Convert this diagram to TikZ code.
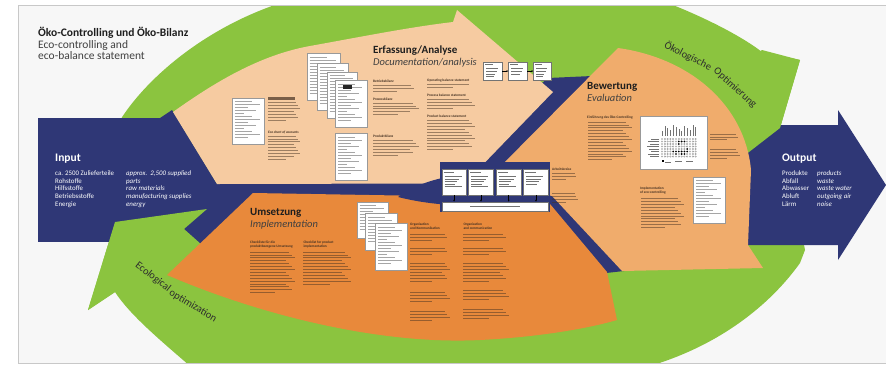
\documentclass[tikz,border=0pt]{standalone}
\usepackage{fontspec}
\setmainfont{Carlito}
\usetikzlibrary{arrows.meta}
\definecolor{navy}{RGB}{47,55,118}
\definecolor{ecogreen}{RGB}{139,196,63}
\definecolor{beige}{RGB}{246,203,161}
\definecolor{lorange}{RGB}{240,172,108}
\definecolor{dorange}{RGB}{232,137,59}
\definecolor{framebg}{RGB}{247,247,247}
\definecolor{frameline}{RGB}{200,200,200}
\definecolor{inktext}{RGB}{30,30,30}
\definecolor{smallink}{RGB}{70,50,35}
\definecolor{arcink}{RGB}{45,45,45}
\newcommand\tlines[4]{%
  \foreach \k in {1,...,#4}{%
    \pgfmathsetmacro\tlfrac{ifthenelse(\k==#4,0.55,0.8+0.2*mod(\k*5,4)/3)}%
    \draw[tline] (#1,{#2+(\k-1)*2.9}) -- ++({#3*\tlfrac},0);}}
\newcommand\docu[4]{%
  \fill[black!30] ({#1+0.8},{#2+0.8}) rectangle ++(#3,#4);
  \filldraw[docframe] (#1,#2) rectangle ++(#3,#4);
  \pgfmathtruncatemacro\docn{(#4-7)/3}%
  \foreach \k in {1,...,\docn}{%
    \pgfmathsetmacro\tlfrac{0.35+0.6*mod(\k*7,5)/4}%
    \draw[docline] ({#1+3},{#2+4+(\k-1)*3}) -- ++({(#3-6)*\tlfrac},0);}}
\newcommand\boxlines[4]{%
  \draw[boxline, line width=0.6pt] ({#1+2},{#2+3}) -- ++({#3*0.6},0);
  \foreach \k in {1,...,#4}{%
    \pgfmathsetmacro\tlfrac{0.6+0.4*mod(\k*3,4)/3}%
    \draw[boxline] ({#1+3},{#2+7+(\k-1)*2.6}) -- ++({#3*\tlfrac},0);}}
\begin{document}
\begin{tikzpicture}[x=1pt,y=-1pt,
  tline/.style={line width=0.75pt, draw=smallink, draw opacity=0.5},
  docline/.style={line width=0.45pt, draw=black!35},
  boxline/.style={line width=0.45pt, draw=black!55},
  docframe/.style={fill=white, draw=black!40, line width=0.4pt},
  tinyhead/.style={font=\fontsize{3.5}{4.1}\selectfont\bfseries, text=smallink, inner sep=0pt, anchor=base west, align=left},
  flowbox/.style={draw=black!55, fill=white, line width=0.4pt, inner sep=0pt, anchor=north west},
  flowarrow/.style={-{Latex[length=1.8pt,width=1.8pt]}, line width=0.45pt, draw=black},
  maintitle/.style={font=\fontsize{11.5}{13}\selectfont\bfseries, text=inktext, inner sep=0pt, anchor=base west},
  subtitle/.style={font=\fontsize{11.5}{13}\selectfont, text=inktext!85, inner sep=0pt, anchor=base west},
  phasehead/.style={font=\fontsize{11}{12}\selectfont\bfseries, text=inktext, inner sep=0pt, anchor=base west},
  phasesub/.style={font=\fontsize{10.5}{12}\selectfont\itshape, text=inktext!85, inner sep=0pt, anchor=base west},
  iohead/.style={font=\fontsize{11.5}{12}\selectfont\bfseries, text=white, inner sep=0pt, anchor=base west},
  iolist/.style={font=\fontsize{6.9}{7.75}\selectfont, text=white, inner sep=0pt, anchor=north west, align=left},
  iolistit/.style={iolist, font=\fontsize{6.9}{7.75}\selectfont\itshape},
  arclabel/.style={font=\fontsize{10.5}{12}\selectfont, text=arcink, inner sep=0pt},
]
\useasboundingbox (0,0) rectangle (886,365);
\fill[white] (0,0) rectangle (886,365);
\fill[framebg] (18,5) rectangle (890,363);
\begin{scope}
\clip (18,5) rectangle (890,363);
% green ring
\fill[ecogreen] (108,180) -- (110,140) .. controls (125,100) and (190,30) .. (290,0)
  -- (660,0) .. controls (700,15) and (740,35) .. (762,52) -- (800,60) -- (780,128)
  -- (795,200) -- (805,250) -- (800,263) .. controls (770,305) and (720,345) .. (650,366)
  -- (190,366) .. controls (160,340) and (130,315) .. (115,292) -- (88,310) -- (115,222) -- cycle;
% central navy
\fill[navy] (160,118) -- (172,110) -- (217,184) -- (440,170) -- (548,78) -- (592,76)
  -- (600,110) -- (556,196) -- (624,271) -- (606,273) -- (540,215) -- (420,212)
  -- (260,205) -- (215,255) -- (170,250) -- (160,242) -- cycle;
% Erfassung (beige)
\fill[beige] (173,112) .. controls (215,82) and (260,55) .. (310,46)
  .. controls (360,37) and (410,27) .. (453,22) -- (457,10) -- (553,92) -- (467,181)
  -- (440,183.5) -- (217,184) -- cycle;
% Input arrow
\fill[navy] (38,118) rectangle (172,242);
% lower-left green arrow head
\fill[ecogreen] (115,292) -- (88,310) -- (115,222) -- (207,209) -- (184,229) -- (202,245) -- (150,300) -- cycle;
% Output arrow
\fill[navy] (740,125) -- (838,125) -- (838,110) -- (886,185) -- (838,260) -- (838,245) -- (740,245) -- cycle;
% upper-right green arrow head
\fill[ecogreen] (762,50) -- (800,60) -- (780,128) -- (700,190) -- (690,100) -- cycle;
% Bewertung
\fill[lorange] (618,48) .. controls (690,58) and (745,105) .. (751,170) -- (748,245) -- (763,268)
  -- (622,271) -- (552,196) -- (485,182) -- cycle;
% Umsetzung
\fill[dorange] (167,275) -- (253,193) -- (545,198) -- (607,272) -- (617,320)
  .. controls (590,328) and (540,337) .. (480,340) .. controls (380,345) and (260,315) .. (167,275) -- cycle;
% navy crescent and patch behind flow boxes
\fill[navy] (398,197) .. controls (415,185) and (435,178) .. (460,175) -- (460,205)
  .. controls (440,205) and (418,202) .. (398,197) -- cycle;
\fill[navy] (440,162) rectangle (550,212);
\end{scope}
\draw[frameline, line width=0.8pt] (890,5) -- (18,5) -- (18,363) -- (890,363);

% titles
\node[maintitle] (title) at (38,36.5) {Öko-Controlling und Öko-Bilanz};
\node[subtitle] (sub1) at (38,48) {Eco-controlling and};
\node[subtitle] (sub2) at (38,59.5) {eco-balance statement};

% Input / Output
\node[iohead] (inhead) at (55,161) {Input};
\node[iolist] (inde) at (55,170.5) {ca. 2500 Zulieferteile\\Rohstoffe\\Hilfsstoffe\\Betriebsstoffe\\Energie};
\node[iolistit] (inen) at (126,170.5) {approx.\ \ 2,500 supplied\\parts\\raw materials\\manufacturing supplies\\energy};
\node[iohead] (outhead) at (782,161) {Output};
\node[iolist] (outde) at (782,170.5) {Produkte\\Abfall\\Abwasser\\Abluft\\Lärm};
\node[iolistit] (outen) at (817,170.5) {products\\waste\\waste water\\outgoing air\\noise};

% phase headings
\node[phasehead] (erf) at (373,53.5) {Erfassung/Analyse};
\node[phasesub] (erfen) at (373,65) {Documentation/analysis};
\node[phasehead] (bew) at (587,89.5) {Bewertung};
\node[phasesub] (bewen) at (587,101) {Evaluation};
\node[phasehead] (ums) at (250,215.5) {Umsetzung};
\node[phasesub] (umsen) at (250,227) {Implementation};

% arc labels
\node[arclabel, rotate=-27] (arc1a) at (688,56) {Ökologische};
\node[arclabel, rotate=-42] (arc1b) at (735,88) {Optimierung};
\node[arclabel, rotate=-38] (arc2a) at (153,277) {Ecological};
\node[arclabel, rotate=-31] (arc2b) at (193,306) {optimization};

% documents - Erfassung
\docu{231.7}{97.7}{32.6}{46.6}
\docu{306.7}{53.3}{33.3}{46.7}
\docu{316.7}{63.3}{31.6}{46.7}
\docu{326.7}{71.7}{30}{46.6}
\docu{335}{80}{31.7}{46.7}
\fill[black!85] (343,85) rectangle ++(9,3.5);
\docu{335}{133.3}{31.7}{46.7}
% documents - Umsetzung
\docu{356.7}{201.7}{31.6}{36.6}
\docu{365}{213.3}{31.7}{36.7}
\docu{375}{223.3}{31.7}{46.7}
% document - Bewertung
\docu{693.3}{176.7}{31.7}{46.6}

% chart - Bewertung
\filldraw[docframe] (640,116) rectangle (707,169.3);
\foreach \i in {0,...,12}{
  \pgfmathsetmacro\tlfrac{5+mod(\i*5,7)}
  \draw[docline, draw=black!55] ({662+\i*2.8},136) -- ++(0,{-\tlfrac});
  \foreach \j in {0,...,7}{
    \draw[black!45, line width=0.25pt] ({662+\i*2.8},{139+\j*2.5}) circle (0.8);
  }
}
\foreach \j in {0,...,7}{
  \pgfmathsetmacro\tlfrac{8+mod(\j*3,5)}
  \draw[docline, draw=black!55] (659,{139+\j*2.5}) -- ++({-\tlfrac},0);
}
\foreach \i/\j in {6/1,7/1,8/1,6/2,4/5,5/5,6/5,7/5,8/5,9/5,5/6,7/6,8/6,9/4}{
  \fill[black] ({662+\i*2.8},{139+\j*2.5}) circle (0.9);
}
\fill[black] (662,160) rectangle ++(2,2);
\draw[docline, draw=black!55] (665,162) -- ++(6,0) (675,161) -- ++(7,0) (686,161) -- ++(7,0);

% flow boxes - Erfassung
\node[flowbox, minimum width=18.4pt, minimum height=18.3pt] (e1) at (483.3,61.7) {};
\node[flowbox, minimum width=18.4pt, minimum height=18.3pt] (e2) at (508.3,61.7) {};
\node[flowbox, minimum width=17.4pt, minimum height=18.3pt] (e3) at (533.3,61.7) {};
\boxlines{483.3}{61.7}{12}{4}
\boxlines{508.3}{61.7}{12}{3}
\boxlines{533.3}{61.7}{11}{4}
\draw[flowarrow] (e1) -- (e2);
\draw[flowarrow] (e2) -- (e3);

% flow boxes - middle
\node[flowbox, minimum width=24.3pt, minimum height=25.7pt] (m1) at (441.7,169.3) {};
\node[flowbox, minimum width=25pt, minimum height=25.7pt] (m2) at (468.3,169.3) {};
\node[flowbox, minimum width=25pt, minimum height=25.7pt] (m3) at (496,169.3) {};
\node[flowbox, minimum width=25pt, minimum height=25.7pt] (m4) at (523.3,169.3) {};
\node[flowbox, minimum width=106.6pt, minimum height=9pt] (mw) at (441.7,201.7) {};
\boxlines{441.7}{169.3}{17}{5}
\boxlines{468.3}{169.3}{17}{5}
\boxlines{496}{169.3}{17}{5}
\boxlines{523.3}{169.3}{17}{4}
\draw[boxline] (470,206.2) -- (520,206.2);
\foreach \b in {m1,m2,m3,m4}{
  \draw[flowarrow] (\b.south) -- (\b.south |- mw.north);
}

% small text - Erfassung
\fill[smallink, opacity=0.7] (268,97.3) rectangle ++(27,2.2);
\tlines{268}{102.5}{32}{7}
\node[tinyhead, font=\fontsize{3.5}{4.1}\selectfont\bfseries\itshape] (hEco) at (268,133.2) {Eco chart of accounts};
\tlines{268}{136}{32}{9}
\node[tinyhead] (hBB) at (373,82.3) {Betriebsbilanz};
\tlines{373}{85.3}{44}{3}
\node[tinyhead] (hPZ) at (373,100) {Prozessbilanz};
\tlines{373}{103}{46}{5}
\node[tinyhead] (hPD) at (373,137.5) {Produktbilanz};
\tlines{373}{140.5}{46}{6}
\node[tinyhead] (hOB) at (427,81.5) {Operating balance statement};
\tlines{427}{84.5}{48}{2}
\node[tinyhead] (hPB) at (427,96.5) {Process balance statement};
\tlines{427}{99.5}{48}{4}
\node[tinyhead] (hPR) at (427,117.5) {Product balance statement};
\tlines{427}{120.5}{48}{11}

% small text - Bewertung
\node[tinyhead] (hEO) at (587,118.5) {Einführung des Öko-Controlling};
\tlines{588}{122}{44}{14}
\tlines{710}{134}{30}{3}
\tlines{710}{149.5}{30}{4}
\node[tinyhead, anchor=north west] (hIE) at (640,186.5) {Implementation\\of eco-controlling};
\tlines{641}{198.5}{43}{11}
\node[tinyhead] (hAK) at (552,170.2) {Arbeitskreise};
\tlines{552}{173.2}{26}{3}
\tlines{552}{193.5}{26}{4}

% small text - Umsetzung
\node[tinyhead, anchor=north west] (hCA) at (250,240.5) {Checkliste für die\\produktbezogene Umsetzung};
\tlines{250}{252}{45}{15}
\node[tinyhead, anchor=north west] (hCB) at (303.3,240.5) {Checklist for product\\implementation};
\tlines{303.3}{252}{48}{12}
\node[tinyhead, anchor=north west] (hOK) at (410,222.5) {Organisation\\und Kommunikation};
\tlines{410}{234.5}{40}{3}
\tlines{410}{248.5}{40}{3}
\tlines{410}{263.5}{40}{7}
\tlines{410}{292.5}{40}{4}
\tlines{410}{311.5}{40}{4}
\node[tinyhead, anchor=north west] (hOC) at (463.3,222.5) {Organization\\and communication};
\tlines{463.3}{234.5}{46}{3}
\tlines{463.3}{248.5}{46}{3}
\tlines{463.3}{263.5}{46}{7}
\tlines{463.3}{290.5}{46}{4}
\tlines{463.3}{309.5}{46}{4}
\end{tikzpicture}
\end{document}
